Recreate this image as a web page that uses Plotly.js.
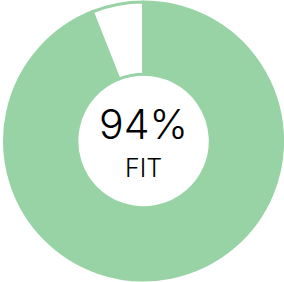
<!DOCTYPE html>
<html>
<head>
<meta charset="utf-8">
<script src="https://cdn.plot.ly/plotly-3.0.1.min.js"></script>
<style>html,body{margin:0;padding:0;background:#fff;}#chart{width:284px;height:282px;}</style>
</head>
<body>
<div id="chart"></div>
<script>
const labels = ["Fit", "Remaining"];
const values = [94, 6];
const sliceColors = ["#98d3a5", "#ffffff"];
const centerValue = "94%";
const centerLabel = "FIT";

Plotly.newPlot("chart", [{
  type: "pie",
  labels: labels,
  values: values,
  hole: 0.48,
  sort: false,
  direction: "clockwise",
  rotation: 0,
  textinfo: "none",
  hoverinfo: "none",
  domain: {x: [0.016, 0.995], y: [0.007, 0.993]},
  marker: {colors: sliceColors, line: {color: "#98d3a5", width: 3}}
}], {
  width: 284, height: 282,
  margin: {l: 0, r: 0, t: 0, b: 0},
  showlegend: false,
  paper_bgcolor: "#fff",
  annotations: [
    {text: centerValue, x: 0.507, y: 0.56, xref: "paper", yref: "paper", showarrow: false,
     font: {family: "Inter, 'DejaVu Sans', sans-serif", size: 41, color: "#000000", weight: 300}},
    {text: centerLabel, x: 0.507, y: 0.403, xref: "paper", yref: "paper", showarrow: false,
     font: {family: "Inter, 'DejaVu Sans', sans-serif", size: 25, color: "#000000", weight: 300}}
  ]
}, {staticPlot: true, displayModeBar: false});
</script>
</body>
</html>
